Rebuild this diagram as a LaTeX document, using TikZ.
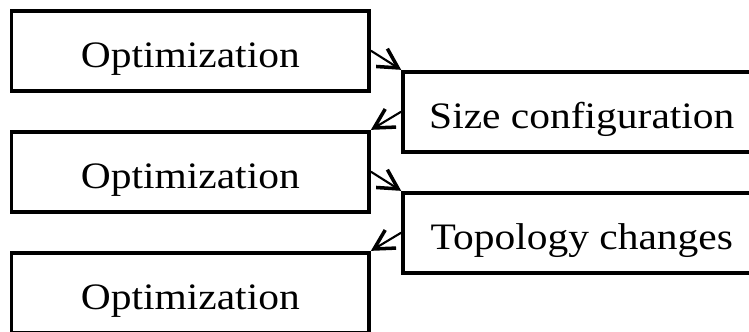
\documentclass[tikz,border=0pt]{standalone}
\usepackage{fontspec}
\usepackage{graphicx}
\setmainfont{Liberation Serif}
\usetikzlibrary{arrows.meta}

\newcommand{\squash}[1]{\scalebox{1}[0.9]{#1}}

\begin{document}
\begin{tikzpicture}[scale=0.2]
    \tikzstyle{every node}+=[inner sep=0pt]
    \tikzstyle{stage}=[draw, black, line width=2.1pt, minimum width=7.15cm, minimum height=1.6cm, text height=19.4pt, text depth=0pt, font=\fontsize{23.6}{28}\selectfont]
    \tikzstyle{link}=[black, line width=1.2pt, -{Straight Barb[length=11pt,width=12pt,line width=2pt]}]
    \useasboundingbox (0,0) rectangle (74.9,-33.1);
    \clip (0,0) rectangle (74.9,-33.1);
    \draw (19.03,-5.07) node [stage] (opt1) {\squash{Optimization}};
    \draw (19.03,-17.17) node [stage] (opt2) {\squash{Optimization}};
    \draw (19.03,-29.27) node [stage] (opt3) {\squash{Optimization}};
    \draw (58.18,-11.17) node [stage] (size) {\squash{Size configuration}};
    \draw (58.18,-23.27) node [stage] (topo) {\squash{Topology changes}};
    \draw [link] (opt1.east) -- (size.north west);
    \draw [link] (size.west) -- (opt2.north east);
    \draw [link] (opt2.east) -- (topo.north west);
    \draw [link] (topo.west) -- (opt3.north east);
\end{tikzpicture}
\end{document}
